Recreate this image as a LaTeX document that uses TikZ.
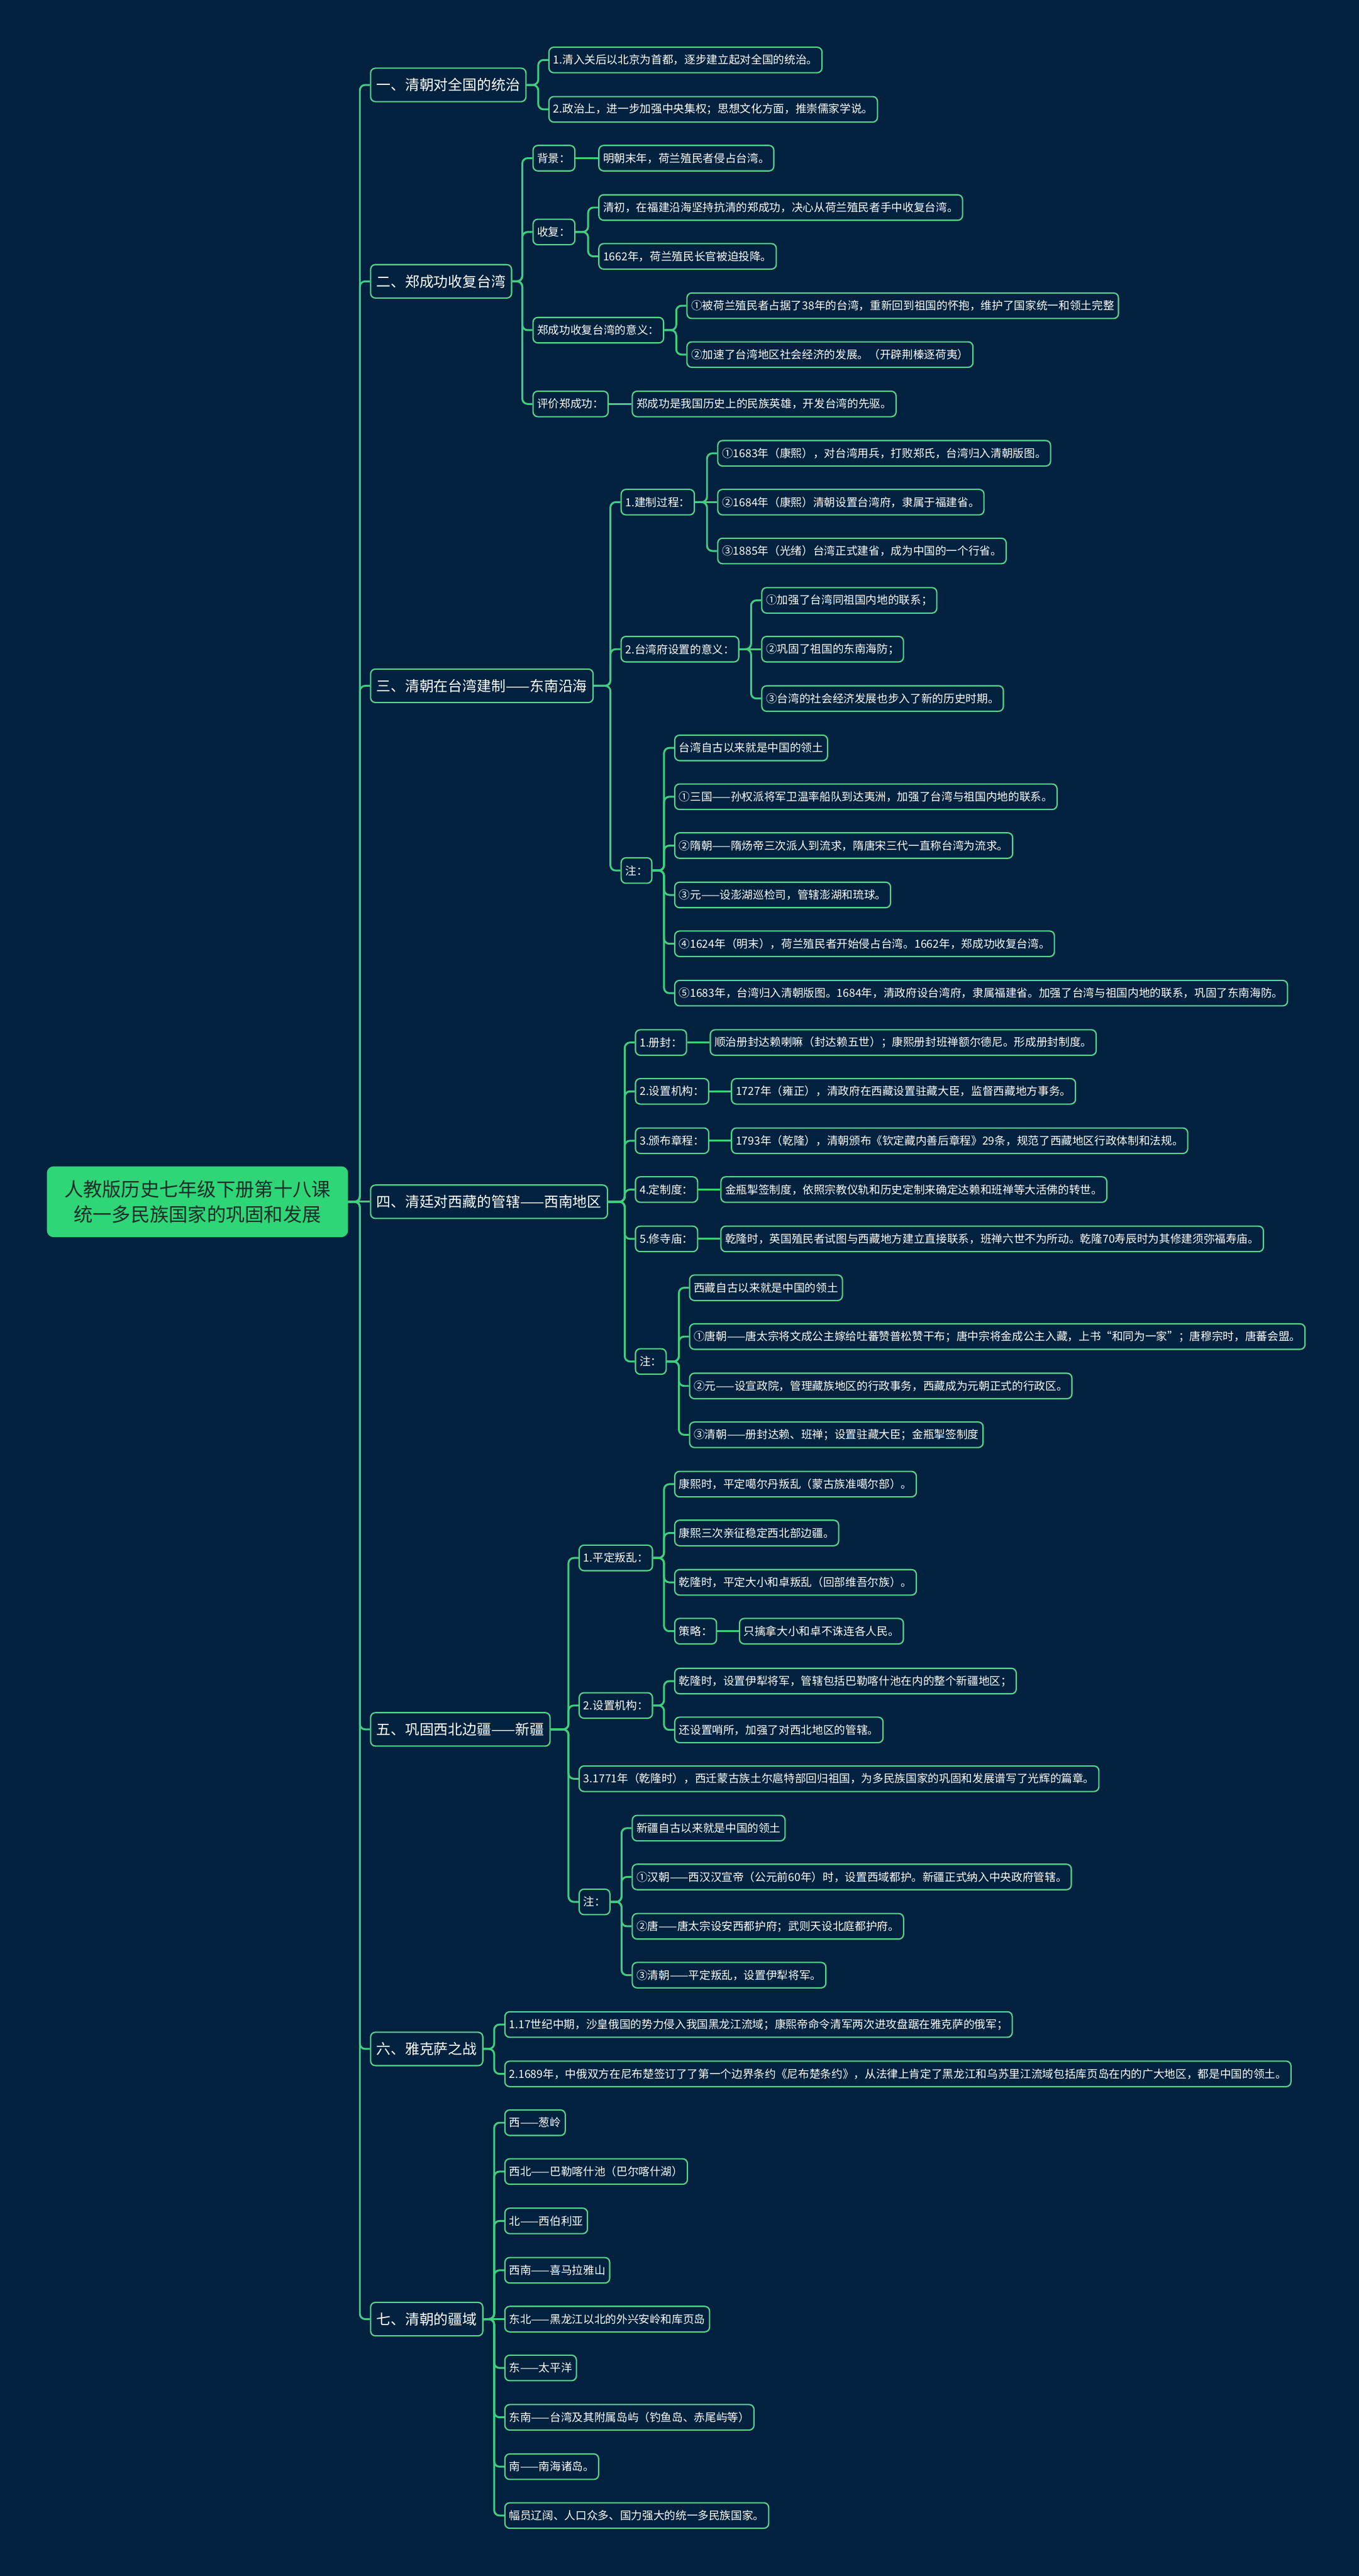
\documentclass[tikz,border=0pt]{standalone}
\usepackage{fontspec}
\newfontfamily\cjk{Noto Sans CJK SC}
\definecolor{bg}{RGB}{1,33,62}
\definecolor{bord}{RGB}{84,214,140}
\definecolor{lnk}{RGB}{64,206,128}
\definecolor{rootg}{RGB}{47,214,120}
\definecolor{roottxt}{RGB}{25,45,40}
\newcommand\leaffont{\cjk\fontsize{5.95pt}{7pt}\selectfont}
\newcommand\secfont{\cjk\fontsize{7.7pt}{9pt}\selectfont}
\newcommand\rootfont{\cjk\fontsize{10.2pt}{13.3pt}\selectfont}
\tikzset{
  box/.style={draw=bord, fill=bg, rounded corners=0.09cm, line width=0.7pt, text=white,
    anchor=west, minimum height=0.48cm, inner xsep=0.08cm, inner ysep=0pt, font=\leaffont},
  sec/.style={box, minimum height=0.63cm, inner xsep=0.11cm, font=\secfont},
  rootbox/.style={fill=rootg, draw=rootg, rounded corners=0.12cm, text=roottxt, align=center,
    minimum width=5.66cm, minimum height=1.32cm, font=\rootfont},
  conn/.style={draw=lnk, line width=1pt, rounded corners=0.1cm},
}
\newcommand\br[2]{\draw[conn] (#1.east) -| ([xshift=-0.19cm]#2.west) -- (#2.west);}
\newcommand\st[2]{\draw[conn] (#1.east) -- (#2.west);}
\begin{document}
\begin{tikzpicture}
\fill[bg] (0,0) rectangle (25.6,-48.53);
\useasboundingbox (0,0) rectangle (25.6,-48.53);

\node[rootbox] (root) at (3.72,-22.64) {人教版历史七年级下册第十八课\\统一多民族国家的巩固和发展};

% sections
\node[sec] (s1) at (6.97,-1.60) {一、清朝对全国的统治};
\node[sec] (s2) at (6.97,-5.30) {二、郑成功收复台湾};
\node[sec] (s3) at (6.97,-12.92) {三、清朝在台湾建制——东南沿海};
\node[sec] (s4) at (6.97,-22.64) {四、清廷对西藏的管辖——西南地区};
\node[sec] (s5) at (6.97,-32.58) {五、巩固西北边疆——新疆};
\node[sec] (s6) at (6.97,-38.60) {六、雅克萨之战};
\node[sec] (s7) at (6.97,-43.69) {七、清朝的疆域};

% section 1
\node[box] (a1) at (10.33,-1.13) {1.清入关后以北京为首都，逐步建立起对全国的统治。};
\node[box] (a2) at (10.33,-2.06) {2.政治上，进一步加强中央集权；思想文化方面，推崇儒家学说。};

% section 2
\node[box] (b1) at (10.03,-2.98) {背景：};
\node[box] (b1a) at (11.27,-2.98) {明朝末年，荷兰殖民者侵占台湾。};
\node[box] (b2) at (10.03,-4.37) {收复：};
\node[box] (b2a) at (11.27,-3.91) {清初，在福建沿海坚持抗清的郑成功，决心从荷兰殖民者手中收复台湾。};
\node[box] (b2b) at (11.27,-4.83) {1662年，荷兰殖民长官被迫投降。};
\node[box] (b3) at (10.03,-6.22) {郑成功收复台湾的意义：};
\node[box] (b3a) at (12.93,-5.76) {①被荷兰殖民者占据了38年的台湾，重新回到祖国的怀抱，维护了国家统一和领土完整};
\node[box] (b3b) at (12.93,-6.68) {②加速了台湾地区社会经济的发展。（开辟荆榛逐荷夷）};
\node[box] (b4) at (10.03,-7.61) {评价郑成功：};
\node[box] (b4a) at (11.90,-7.61) {郑成功是我国历史上的民族英雄，开发台湾的先驱。};

% section 3
\node[box] (c1) at (11.69,-9.46) {1.建制过程：};
\node[box] (c1a) at (13.51,-8.54) {①1683年（康熙），对台湾用兵，打败郑氏，台湾归入清朝版图。};
\node[box] (c1b) at (13.51,-9.46) {②1684年（康熙）清朝设置台湾府，隶属于福建省。};
\node[box] (c1c) at (13.51,-10.38) {③1885年（光绪）台湾正式建省，成为中国的一个行省。};
\node[box] (c2) at (11.69,-12.23) {2.台湾府设置的意义：};
\node[box] (c2a) at (14.34,-11.31) {①加强了台湾同祖国内地的联系；};
\node[box] (c2b) at (14.34,-12.23) {②巩固了祖国的东南海防；};
\node[box] (c2c) at (14.34,-13.16) {③台湾的社会经济发展也步入了新的历史时期。};
\node[box] (c3) at (11.69,-16.40) {注：};
\node[box] (c3a) at (12.70,-14.09) {台湾自古以来就是中国的领土};
\node[box] (c3b) at (12.70,-15.01) {①三国——孙权派将军卫温率船队到达夷洲，加强了台湾与祖国内地的联系。};
\node[box] (c3c) at (12.70,-15.93) {②隋朝——隋炀帝三次派人到流求，隋唐宋三代一直称台湾为流求。};
\node[box] (c3d) at (12.70,-16.86) {③元——设澎湖巡检司，管辖澎湖和琉球。};
\node[box] (c3e) at (12.70,-17.78) {④1624年（明末），荷兰殖民者开始侵占台湾。1662年，郑成功收复台湾。};
\node[box] (c3f) at (12.70,-18.71) {⑤1683年，台湾归入清朝版图。1684年，清政府设台湾府，隶属福建省。加强了台湾与祖国内地的联系，巩固了东南海防。};

% section 4
\node[box] (d1) at (11.96,-19.64) {1.册封：};
\node[box] (d1a) at (13.37,-19.64) {顺治册封达赖喇嘛（封达赖五世）；康熙册封班禅额尔德尼。形成册封制度。};
\node[box] (d2) at (11.96,-20.56) {2.设置机构：};
\node[box] (d2a) at (13.77,-20.56) {1727年（雍正），清政府在西藏设置驻藏大臣，监督西藏地方事务。};
\node[box] (d3) at (11.96,-21.49) {3.颁布章程：};
\node[box] (d3a) at (13.77,-21.49) {1793年（乾隆），清朝颁布《钦定藏内善后章程》29条，规范了西藏地区行政体制和法规。};
\node[box] (d4) at (11.96,-22.41) {4.定制度：};
\node[box] (d4a) at (13.57,-22.41) {金瓶掣签制度，依照宗教仪轨和历史定制来确定达赖和班禅等大活佛的转世。};
\node[box] (d5) at (11.96,-23.34) {5.修寺庙：};
\node[box] (d5a) at (13.57,-23.34) {乾隆时，英国殖民者试图与西藏地方建立直接联系，班禅六世不为所动。乾隆70寿辰时为其修建须弥福寿庙。};
\node[box] (d6) at (11.96,-25.65) {注：};
\node[box] (d6a) at (12.98,-24.26) {西藏自古以来就是中国的领土};
\node[box] (d6b) at (12.98,-25.18) {①唐朝——唐太宗将文成公主嫁给吐蕃赞普松赞干布；唐中宗将金成公主入藏，上书“和同为一家”；唐穆宗时，唐蕃会盟。};
\node[box] (d6c) at (12.98,-26.11) {②元——设宣政院，管理藏族地区的行政事务，西藏成为元朝正式的行政区。};
\node[box] (d6d) at (12.98,-27.03) {③清朝——册封达赖、班禅；设置驻藏大臣；金瓶掣签制度};

% section 5
\node[box] (e1) at (10.90,-29.35) {1.平定叛乱：};
\node[box] (e1a) at (12.70,-27.96) {康熙时，平定噶尔丹叛乱（蒙古族准噶尔部）。};
\node[box] (e1b) at (12.70,-28.88) {康熙三次亲征稳定西北部边疆。};
\node[box] (e1c) at (12.70,-29.81) {乾隆时，平定大小和卓叛乱（回部维吾尔族）。};
\node[box] (e1d) at (12.70,-30.73) {策略：};
\node[box] (e1e) at (13.92,-30.73) {只擒拿大小和卓不诛连各人民。};
\node[box] (e2) at (10.90,-32.13) {2.设置机构：};
\node[box] (e2a) at (12.70,-31.67) {乾隆时，设置伊犁将军，管辖包括巴勒喀什池在内的整个新疆地区；};
\node[box] (e2b) at (12.70,-32.59) {还设置哨所，加强了对西北地区的管辖。};
\node[box] (e3) at (10.90,-33.51) {3.1771年（乾隆时），西迁蒙古族土尔扈特部回归祖国，为多民族国家的巩固和发展谱写了光辉的篇章。};
\node[box] (e4) at (10.90,-35.83) {注：};
\node[box] (e4a) at (11.90,-34.44) {新疆自古以来就是中国的领土};
\node[box] (e4b) at (11.90,-35.36) {①汉朝——西汉汉宣帝（公元前60年）时，设置西域都护。新疆正式纳入中央政府管辖。};
\node[box] (e4c) at (11.90,-36.29) {②唐——唐太宗设安西都护府；武则天设北庭都护府。};
\node[box] (e4d) at (11.90,-37.21) {③清朝——平定叛乱，设置伊犁将军。};

% section 6
\node[box] (f1) at (9.50,-38.14) {1.17世纪中期，沙皇俄国的势力侵入我国黑龙江流域；康熙帝命令清军两次进攻盘踞在雅克萨的俄军；};
\node[box] (f2) at (9.50,-39.07) {2.1689年，中俄双方在尼布楚签订了了第一个边界条约《尼布楚条约》，从法律上肯定了黑龙江和乌苏里江流域包括库页岛在内的广大地区，都是中国的领土。};

% section 7
\node[box] (g1) at (9.50,-39.99) {西——葱岭};
\node[box] (g2) at (9.50,-40.91) {西北——巴勒喀什池（巴尔喀什湖）};
\node[box] (g3) at (9.50,-41.84) {北——西伯利亚};
\node[box] (g4) at (9.50,-42.77) {西南——喜马拉雅山};
\node[box] (g5) at (9.50,-43.69) {东北——黑龙江以北的外兴安岭和库页岛};
\node[box] (g6) at (9.50,-44.61) {东——太平洋};
\node[box] (g7) at (9.50,-45.54) {东南——台湾及其附属岛屿（钓鱼岛、赤尾屿等）};
\node[box] (g8) at (9.50,-46.47) {南——南海诸岛。};
\node[box] (g9) at (9.50,-47.39) {幅员辽阔、人口众多、国力强大的统一多民族国家。};

% trunk
\foreach \s in {s1,s2,s3,s5,s6,s7} {\br{root}{\s}}
\st{root}{s4}

% section 1-7 links
\br{s1}{a1} \br{s1}{a2}
\br{s2}{b1} \br{s2}{b2} \br{s2}{b3} \br{s2}{b4}
\st{b1}{b1a} \br{b2}{b2a} \br{b2}{b2b} \br{b3}{b3a} \br{b3}{b3b} \st{b4}{b4a}
\br{s3}{c1} \br{s3}{c2} \br{s3}{c3}
\br{c1}{c1a} \st{c1}{c1b} \br{c1}{c1c}
\br{c2}{c2a} \st{c2}{c2b} \br{c2}{c2c}
\foreach \c in {c3a,c3b,c3c,c3d,c3e,c3f} {\br{c3}{\c}}
\foreach \c in {d1,d2,d3,d5,d6} {\br{s4}{\c}}
\br{s4}{d4}
\st{d1}{d1a} \st{d2}{d2a} \st{d3}{d3a} \st{d4}{d4a} \st{d5}{d5a}
\foreach \c in {d6a,d6b,d6c,d6d} {\br{d6}{\c}}
\foreach \c in {e1,e2,e3,e4} {\br{s5}{\c}}
\foreach \c in {e1a,e1b,e1c,e1d} {\br{e1}{\c}}
\st{e1d}{e1e}
\br{e2}{e2a} \br{e2}{e2b}
\foreach \c in {e4a,e4b,e4c,e4d} {\br{e4}{\c}}
\br{s6}{f1} \br{s6}{f2}
\foreach \c in {g1,g2,g3,g4,g6,g7,g8,g9} {\br{s7}{\c}}
\st{s7}{g5}
\end{tikzpicture}
\end{document}
